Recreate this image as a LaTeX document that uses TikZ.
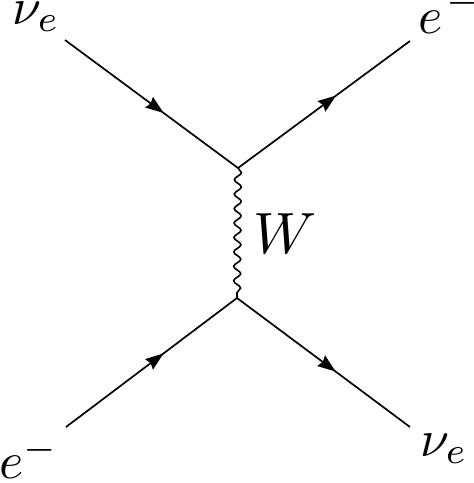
\documentclass[tikz,border=0pt]{standalone}
\usetikzlibrary{arrows.meta,decorations.markings,decorations.pathmorphing}
\begin{document}
\begin{tikzpicture}[x=1pt,y=-1pt,
  fermion/.style={line width=1.7pt,postaction={decorate},
    decoration={markings,mark=at position 0.57 with {\arrow{Stealth[length=18pt,width=13pt,inset=2pt]}}}},
  boson/.style={line width=1.6pt,decorate,decoration={snake,segment length=130pt/9,amplitude=3.5pt}},
  lbl/.style={anchor=base west,inner sep=0pt,scale=5.2}]
\useasboundingbox (0,0) rectangle (474,483);
\clip (0,0) rectangle (474,483);
\coordinate (v1) at (238,168);
\coordinate (v2) at (237,298);
\coordinate (a) at (65,40);
\coordinate (b) at (410,41);
\coordinate (c) at (66,427);
\coordinate (d) at (410,427);
\draw[fermion] (a) -- (v1);
\draw[fermion] (v1) -- (b);
\draw[fermion] (c) -- (v2);
\draw[fermion] (v2) -- (d);
\draw[boson] (v1) -- (v2);
\node[lbl] (la) at (11,24) {$\nu_e$};
\node[lbl] (lb) at (417,33) {$e$};
\node[lbl] (lbm) at (445,12) {$\scriptstyle -$};
\node[lbl] (lc) at (-2,478) {$e^-$};
\node[lbl] (ld) at (419,456) {$\nu_e$};
\node[lbl,scale=1.12] (lw) at (252,253) {$W$};
\end{tikzpicture}
\end{document}
